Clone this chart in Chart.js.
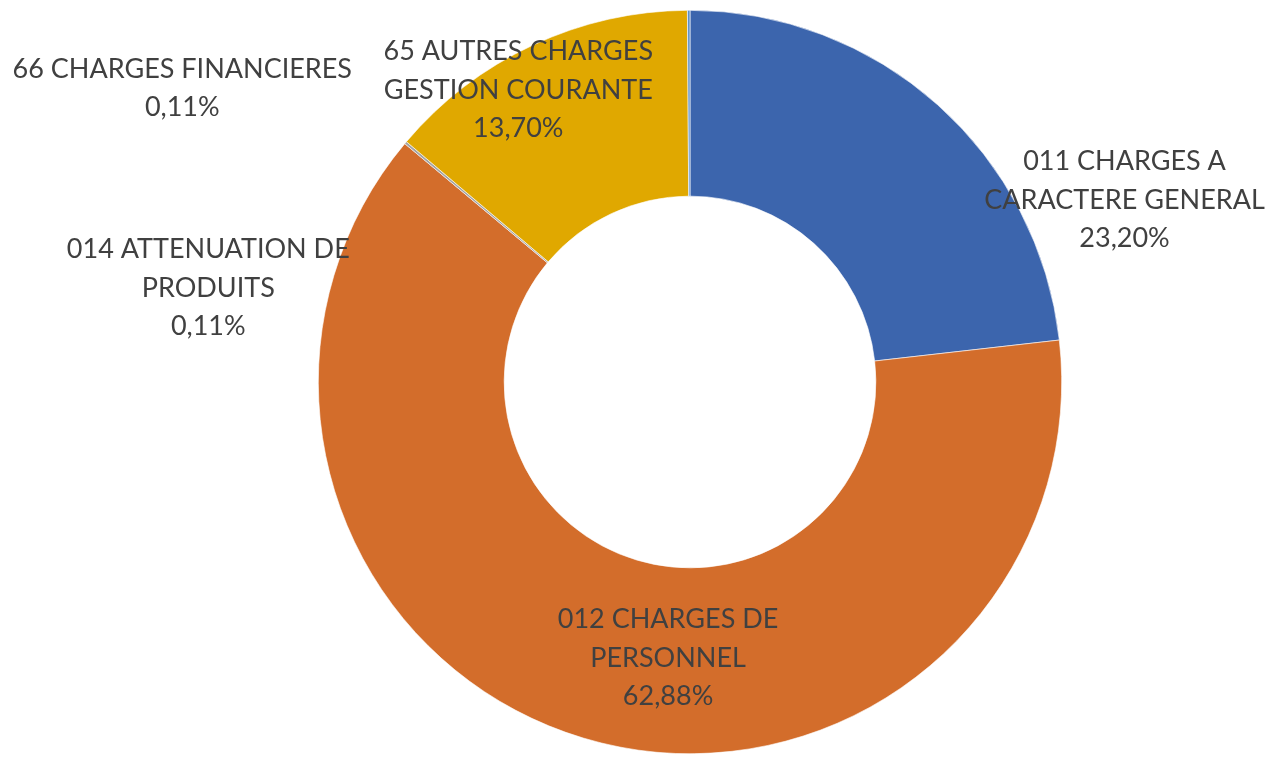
<!DOCTYPE html>
<html>
<head>
<meta charset="utf-8">
<script src="https://cdn.jsdelivr.net/npm/chart.js@4"></script>
<style>
  html, body { margin: 0; padding: 0; background: #fff; }
  #wrap { width: 1269px; height: 758px; position: relative; }
</style>
</head>
<body>
<div id="wrap"><canvas id="chart"></canvas></div>
<script>
// categories (wrapped like the original labels)
const categories = [
    ["011 CHARGES A", "CARACTERE GENERAL"],
    ["012 CHARGES DE", "PERSONNEL"],
    ["014 ATTENUATION DE", "PRODUITS"],
    ["65 AUTRES CHARGES", "GESTION COURANTE"],
    ["66 CHARGES FINANCIERES"]
];
// share of expenses, in %
const shares = [23.20, 62.88, 0.11, 13.70, 0.11];
const colors = ["#3c65ad", "#d36d2b", "#a3a3a3", "#e0a800", "#5b8fc9"];

// label centres, relative to the doughnut centre, in outer radius units
const labelPos = [
    [1.169, -0.489],
    [-0.059, 0.742],
    [-1.296, -0.253],
    [-0.462, -0.785],
    [-1.366, -0.790]
];

const pctText = v => v.toFixed(2).replace(".", ",") + "%";

const excelLabels = {
    id: "excelLabels",
    afterDatasetsDraw(chart) {
        const ctx = chart.ctx;
        const meta = chart.getDatasetMeta(0);
        ctx.save();
        ctx.font = "27px Lato";
        ctx.fillStyle = "#404040";
        ctx.textAlign = "center";
        ctx.textBaseline = "middle";
        const lh = 38.5;
        meta.data.forEach(function (arc, i) {
            const cx = arc.x, cy = arc.y, R = arc.outerRadius;
            const lines = [].concat(chart.data.labels[i], pctText(shares[i]));
            const x = cx + labelPos[i][0] * R;
            const y0 = cy + labelPos[i][1] * R - (lines.length - 1) * lh / 2;
            lines.forEach(function (t, k) {
                ctx.fillText(t, x, y0 + k * lh);
            });
        });
        ctx.restore();
    }
};

new Chart(document.getElementById("chart"), {
    type: "doughnut",
    data: {
        labels: categories,
        datasets: [{
            data: shares,
            backgroundColor: colors,
            borderWidth: 0.6,
            borderColor: "#ffffff"
        }]
    },
    options: {
        responsive: true,
        maintainAspectRatio: false,
        animation: false,
        cutout: "50%",
        layout: { padding: { left: 111, right: 0, top: 10, bottom: 4 } },
        plugins: {
            legend: { display: false },
            tooltip: { enabled: false }
        }
    },
    plugins: [excelLabels]
});
</script>
</body>
</html>
